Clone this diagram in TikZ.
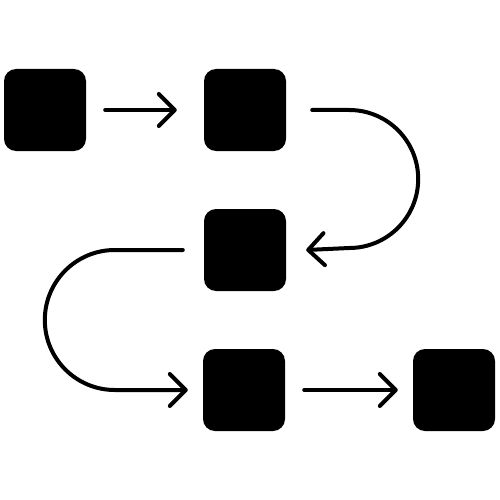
\documentclass[tikz,border=0pt]{standalone}
\usetikzlibrary{arrows.meta,calc}
\begin{document}
\begin{tikzpicture}[x=1pt,y=-1pt,
  box/.style={draw=none,fill=black,rounded corners=12pt,minimum size=82pt,inner sep=0pt},
  conn/.style={line width=4pt,line cap=round,line join=round,
    -{Straight Barb[length=16pt,width=32pt,round]}}]
\useasboundingbox (0,0) rectangle (500,500);
\node[box] (b1) at (45,110) {};
\node[box] (b2) at (245,110) {};
\node[box] (b3) at (245,250) {};
\node[box] (b4) at (244,390) {};
\node[box] (b5) at (454,390) {};
\draw[conn] ($(b1.east)+(19,0)$) -- ($(b2.west)+(-27,0)$);
\draw[conn] ($(b2.east)+(26,0)$) -- ++(37,0) arc[start angle=-90,end angle=90,radius=69]
  -- ($(b3.east)+(20,0)$);
\draw[conn] ($(b3.west)+(-21,0)$) -- ++(-68,0) arc[start angle=-90,end angle=-270,radius=70]
  -- ($(b4.west)+(-15,0)$);
\draw[conn] ($(b4.east)+(19,0)$) -- ($(b5.west)+(-15,0)$);
\end{tikzpicture}
\end{document}
